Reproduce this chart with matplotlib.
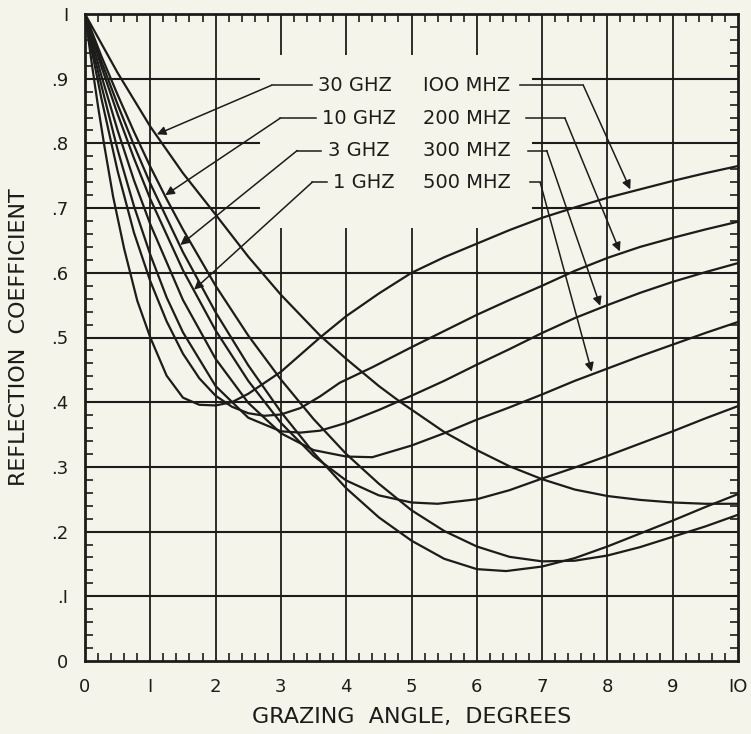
import matplotlib.pyplot as plt
from matplotlib.patches import Rectangle
from matplotlib.ticker import MultipleLocator

# grazing angle (deg) / reflection coefficient
x_100m = [0, 0.1, 0.2, 0.3, 0.43, 0.6, 0.8, 1.0, 1.25, 1.5, 1.75, 2.0, 2.25, 2.5, 3.0, 3.6, 4.0, 4.5,
          5.0, 5.5, 6.0, 6.5, 7.0, 7.5, 8.0, 8.5, 9.0, 9.5, 10]
y_100m = [1, 0.926, 0.857, 0.794, 0.718, 0.637, 0.557, 0.500, 0.441, 0.407, 0.396, 0.395, 0.400, 0.413,
          0.447, 0.500, 0.533, 0.568, 0.600, 0.624, 0.645, 0.666, 0.685, 0.701, 0.716, 0.729, 0.742,
          0.754, 0.765]
x_200m = [0, 0.1, 0.25, 0.5, 0.75, 1.0, 1.25, 1.5, 1.75, 2.0, 2.25, 2.5, 2.75, 3.0, 3.3, 3.6, 3.9, 4.4,
          5.0, 5.5, 6.0, 6.5, 7.0, 7.5, 8.0, 8.5, 9.0, 9.5, 10]
y_200m = [1, 0.945, 0.87, 0.757, 0.662, 0.587, 0.525, 0.475, 0.437, 0.410, 0.393, 0.383, 0.379, 0.381,
          0.391, 0.409, 0.430, 0.454, 0.485, 0.510, 0.535, 0.558, 0.580, 0.603, 0.623, 0.640, 0.654,
          0.667, 0.679]
x_300m = [0, 0.1, 0.25, 0.5, 0.75, 1.0, 1.25, 1.5, 2.0, 2.5, 3.0, 3.3, 3.6, 4.0, 4.5, 5.0, 5.5, 6.0,
          6.5, 7.0, 7.5, 8.0, 8.5, 9.0, 9.5, 10]
y_300m = [1, 0.953, 0.89, 0.79, 0.703, 0.628, 0.562, 0.508, 0.425, 0.376, 0.355, 0.353, 0.356, 0.368,
          0.388, 0.41, 0.433, 0.458, 0.482, 0.507, 0.53, 0.55, 0.569, 0.586, 0.601, 0.615]
x_500m = [0, 0.1, 0.25, 0.5, 0.75, 1.0, 1.5, 2.0, 2.5, 3.0, 3.5, 4.0, 4.4, 5.0, 5.5, 6.0, 6.5, 7.0, 7.5,
          8.0, 8.5, 9.0, 9.5, 10]
y_500m = [1, 0.961, 0.905, 0.82, 0.743, 0.675, 0.558, 0.467, 0.399, 0.352, 0.326, 0.316, 0.315, 0.333,
          0.352, 0.373, 0.392, 0.412, 0.433, 0.452, 0.471, 0.489, 0.507, 0.524]
x_1g = [0, 0.25, 0.5, 0.75, 1.0, 1.5, 2.0, 2.5, 3.0, 3.5, 4.0, 4.5, 5.0, 5.4, 6.0, 6.5, 7.0, 7.5, 8.0,
        8.5, 9.0, 9.5, 10]
y_1g = [1, 0.919, 0.845, 0.777, 0.714, 0.604, 0.511, 0.433, 0.368, 0.317, 0.279, 0.256, 0.245, 0.243,
        0.25, 0.264, 0.282, 0.299, 0.317, 0.336, 0.355, 0.375, 0.394]
x_3g = [0, 0.25, 0.5, 0.75, 1.0, 1.5, 2.0, 2.5, 3.0, 3.5, 4.0, 4.5, 5.0, 5.5, 6.0, 6.45, 7.0, 7.5, 8.0,
        8.5, 9.0, 9.5, 10]
y_3g = [1, 0.927, 0.86, 0.797, 0.738, 0.632, 0.539, 0.457, 0.385, 0.322, 0.267, 0.222, 0.186, 0.158,
        0.142, 0.139, 0.146, 0.159, 0.177, 0.197, 0.217, 0.238, 0.258]
x_10g = [0, 0.25, 0.5, 0.75, 1.0, 1.25, 1.5, 2.0, 2.5, 3.0, 3.5, 4.0, 4.5, 5.0, 5.5, 6.0, 6.5, 7.0, 7.5,
         8.0, 8.5, 9.0, 9.5, 10]
y_10g = [1, 0.935, 0.875, 0.818, 0.764, 0.714, 0.667, 0.58, 0.503, 0.435, 0.374, 0.32, 0.274, 0.233,
         0.201, 0.177, 0.161, 0.154, 0.155, 0.163, 0.176, 0.192, 0.208, 0.226]
x_30g = [0, 0.5, 1.0, 1.5, 2.0, 2.5, 3.0, 3.6, 4.0, 4.5, 4.82, 5.5, 6.0, 6.5, 7.0, 7.5, 8.0, 8.5, 9.0,
         9.5, 10]
y_30g = [1, 0.909, 0.826, 0.754, 0.69, 0.625, 0.566, 0.503, 0.467, 0.425, 0.401, 0.354, 0.326, 0.301,
         0.281, 0.265, 0.255, 0.249, 0.245, 0.243, 0.243]

curves = [(x_100m, y_100m), (x_200m, y_200m), (x_300m, y_300m), (x_500m, y_500m),
          (x_1g, y_1g), (x_3g, y_3g), (x_10g, y_10g), (x_30g, y_30g)]

ghz_labels = ['30 GHZ', '10 GHZ', '3 GHZ', '1 GHZ']
mhz_labels = ['IOO MHZ', '200 MHZ', '300 MHZ', '500 MHZ']
label_rows = [0.890, 0.839, 0.789, 0.740]
ghz_text_x = [3.57, 3.63, 3.72, 3.80]
ghz_line_x = [3.48, 3.53, 3.62, 3.70]
ghz_elbow_x = [2.86, 2.99, 3.25, 3.48]
ghz_tips = [(1.10, 0.814), (1.23, 0.72), (1.46, 0.643), (1.67, 0.574)]
mhz_text_x = 5.17
mhz_end_x = [6.66, 6.76, 6.78, 6.81]
mhz_elbow_x = [7.63, 7.35, 7.07, 6.97]
mhz_tips = [(8.35, 0.729), (8.19, 0.633), (7.89, 0.549), (7.76, 0.447)]

bg = '#f4f4ea'
ink = '#1c1c1a'

fig = plt.figure(figsize=(7.51, 7.34), dpi=100, facecolor=bg)
ax = fig.add_axes([85 / 751, 73 / 734, 653 / 751, 647 / 734])
ax.set_facecolor(bg)
ax.set_xlim(0, 10)
ax.set_ylim(0, 1)

for xv in range(1, 10):
    ax.axvline(xv, color=ink, lw=1.3, zorder=1)
for k in range(1, 10):
    ax.axhline(k / 10, color=ink, lw=1.5, zorder=1)
# blank area behind the labels
ax.add_patch(Rectangle((2.68, 0.669), 6.85 - 2.68, 0.937 - 0.669, facecolor=bg,
                       edgecolor='none', zorder=1.5))

for xs, ys in curves:
    ax.plot(xs, ys, color=ink, lw=1.6, zorder=3)

arrow = dict(arrowstyle='-|>', color=ink, lw=1.1, mutation_scale=13, shrinkA=0, shrinkB=0)
for i in range(4):
    yr = label_rows[i]
    ax.text(ghz_text_x[i], yr, ghz_labels[i], fontsize=14, color=ink, va='center', ha='left', zorder=4)
    ax.plot([ghz_line_x[i], ghz_elbow_x[i]], [yr, yr], color=ink, lw=1.1, zorder=4)
    ax.annotate('', xy=ghz_tips[i], xytext=(ghz_elbow_x[i], yr), arrowprops=arrow, zorder=4)

    ax.text(mhz_text_x, yr, mhz_labels[i], fontsize=14, color=ink, va='center', ha='left', zorder=4)
    ax.plot([mhz_end_x[i], mhz_elbow_x[i]], [yr, yr], color=ink, lw=1.1, zorder=4)
    ax.annotate('', xy=mhz_tips[i], xytext=(mhz_elbow_x[i], yr), arrowprops=arrow, zorder=4)

ax.set_xticks(range(0, 11))
ax.set_xticklabels(['0', 'I', '2', '3', '4', '5', '6', '7', '8', '9', 'IO'])
ax.set_yticks([k / 10 for k in range(11)])
ax.set_yticklabels(['0', '.I', '.2', '.3', '.4', '.5', '.6', '.7', '.8', '.9', 'I'])
ax.xaxis.set_minor_locator(MultipleLocator(0.2))
ax.yaxis.set_minor_locator(MultipleLocator(0.02))
ax.tick_params(which='both', direction='in', top=True, right=True, colors=ink)
ax.tick_params(which='major', length=0, labelsize=13, pad=12)
ax.tick_params(which='minor', length=6, width=1.2)
for s in ax.spines.values():
    s.set_linewidth(2)
    s.set_color(ink)

ax.set_xlabel('GRAZING  ANGLE,  DEGREES', fontsize=16, color=ink, labelpad=8)
ax.set_ylabel('REFLECTION  COEFFICIENT', fontsize=16, color=ink, labelpad=16)

fig.savefig('out.png', dpi=100, facecolor=bg)
